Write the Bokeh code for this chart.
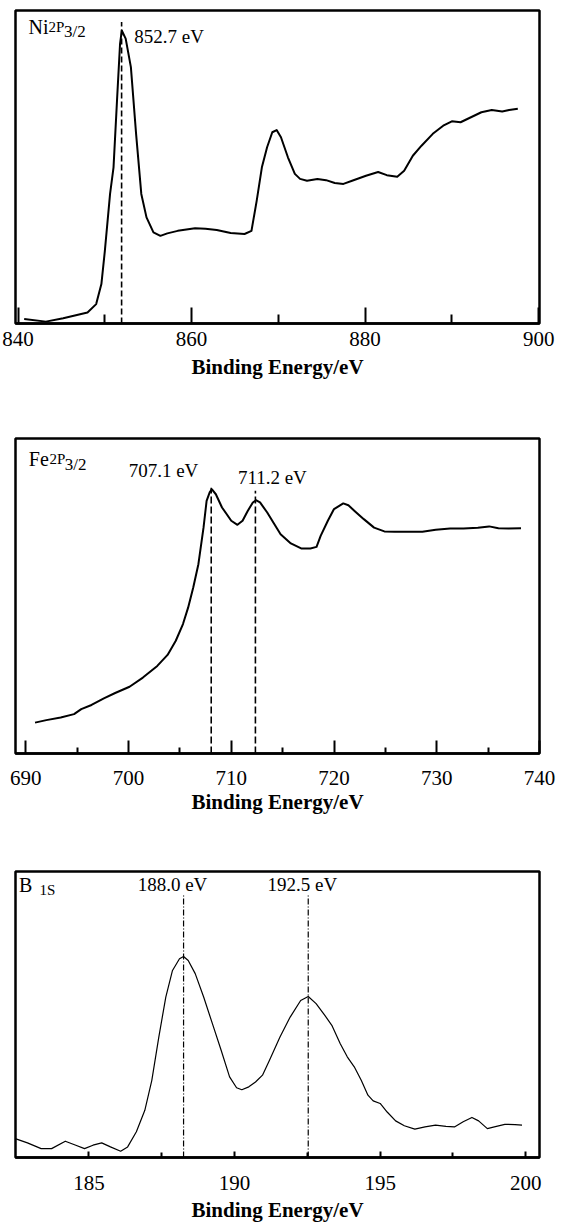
from bokeh.plotting import figure
from bokeh.models import Range1d, FixedTicker, Title
from bokeh.layouts import column
from bokeh.core.properties import value
from bokeh.embed import file_html
from bokeh.resources import INLINE

SERIF = "Liberation Serif"

# ---------------- data ----------------
ni_energy = [840.7, 843.2, 845.2, 848.0, 849.0, 849.6, 850.0, 850.6, 851.0, 851.4,
             851.75, 851.95, 852.4, 853.0, 853.6, 854.2, 854.8, 855.6, 856.4, 857.2,
             858.4, 860.4, 861.6, 862.9, 864.5, 866.1, 866.9, 867.5, 868.1, 868.7,
             869.3, 869.8, 870.3, 871.1, 871.9, 872.5, 873.3, 874.5, 875.5, 876.5,
             877.5, 878.5, 880.1, 881.5, 882.5, 883.7, 884.5, 885.5, 886.5, 887.8,
             889.0, 890.0, 891.0, 892.2, 893.4, 894.6, 895.8, 896.6, 897.6]
ni_intensity = [1.4, 0.6, 1.7, 3.5, 6.2, 12.6, 23.2, 41.4, 49.9, 71.2,
                89.3, 93.6, 91.0, 81.9, 60.6, 41.4, 33.9, 29.1, 28.0, 28.8,
                29.6, 30.4, 30.3, 29.9, 28.9, 28.6, 29.6, 39.2, 49.9, 56.3,
                61.1, 61.8, 59.5, 53.1, 47.8, 46.2, 45.6, 46.2, 45.8, 44.9,
                44.6, 45.6, 47.2, 48.4, 47.4, 46.9, 48.8, 53.6, 56.8, 60.6,
                63.2, 64.6, 64.3, 65.9, 67.5, 68.2, 67.7, 68.2, 68.6]
ni_peak_pos = [851.93]
ni_peak_top = [96.3]
ni_peak_labels = ["852.7 eV"]
ni_ticks = [840, 860, 880, 900]
ni_minor = [850, 870, 890]

fe_energy = [690.9, 692.0, 693.4, 694.7, 695.4, 696.4, 697.6, 698.7, 700.1, 701.4,
             702.8, 703.8, 704.6, 705.3, 705.8, 706.3, 706.8, 707.3, 707.6, 707.9,
             708.1, 708.5, 709.1, 710.0, 710.6, 711.1, 711.6, 712.1, 712.4, 712.8,
             713.5, 714.2, 714.8, 715.8, 716.8, 717.7, 718.3, 718.7, 719.4, 720.0,
             720.9, 721.4, 722.0, 722.9, 723.9, 724.9, 725.9, 727.2, 728.6, 729.9,
             731.3, 732.6, 734.0, 735.1, 736.0, 737.0, 738.2]
fe_intensity = [9.8, 10.6, 11.4, 12.5, 14.1, 15.4, 17.5, 19.2, 21.2, 24.1,
                27.8, 31.3, 35.8, 41.1, 46.3, 52.7, 60.1, 71.7, 80.2, 82.9,
                83.9, 82.3, 78.1, 73.9, 72.6, 73.9, 77.0, 79.7, 80.4, 79.7,
                76.5, 72.8, 69.6, 66.7, 65.1, 65.1, 65.6, 69.1, 73.9, 77.6,
                79.4, 78.8, 77.0, 74.4, 71.7, 70.5, 70.4, 70.4, 70.4, 71.0,
                71.4, 71.4, 71.7, 72.1, 71.5, 71.4, 71.5]
fe_peak_pos = [708.05, 712.35]
fe_peak_top = [84.4, 83.4]
fe_peak_labels = ["707.1 eV", "711.2 eV"]
fe_ticks = [690, 700, 710, 720, 730, 740]
fe_minor = [695, 705, 715, 725, 735]

b_energy = [182.47, 182.89, 183.36, 183.72, 184.19, 184.55, 184.85, 185.14, 185.44, 185.74,
            186.09, 186.33, 186.63, 186.92, 187.16, 187.40, 187.64, 187.87, 188.11, 188.25,
            188.41, 188.65, 188.94, 189.24, 189.54, 189.83, 190.07, 190.25, 190.49, 190.72,
            190.96, 191.20, 191.56, 191.91, 192.27, 192.53, 192.80, 193.10, 193.34, 193.63,
            193.87, 194.11, 194.35, 194.58, 194.76, 195.00, 195.24, 195.53, 195.83, 196.19,
            196.54, 196.90, 197.26, 197.55, 197.85, 198.15, 198.38, 198.68, 198.92, 199.28,
            199.63, 199.87]
b_intensity = [6.6, 5.1, 3.1, 3.1, 5.7, 4.3, 3.1, 4.3, 5.1, 3.7,
               2.2, 3.7, 9.0, 16.5, 27.0, 42.1, 56.1, 65.4, 69.5, 70.3,
               68.9, 64.3, 56.1, 46.8, 37.5, 28.2, 24.4, 23.7, 24.7, 26.4,
               28.8, 34.0, 42.1, 49.1, 54.9, 56.3, 53.8, 49.7, 46.2, 39.8,
               35.2, 31.7, 27.0, 21.8, 19.8, 18.9, 15.9, 12.8, 11.1, 9.9,
               10.7, 11.3, 10.9, 10.7, 12.5, 14.0, 12.8, 10.1, 10.7, 11.6,
               11.5, 11.3]
b_peak_pos = [188.25, 192.53]
b_peak_top = [91.6, 91.6]
b_peak_labels = ["188.0 eV", "192.5 eV"]
b_ticks = [185, 190, 195, 200]
b_minor = [187.5, 192.5, 197.5]

AXIS_TITLE = "Binding Energy/eV"


def make_panel(height, b_top, b_bottom, b_left, b_right, xr, ticks, minor,
               tick_in, minor_in, lab_standoff, title_offset, title_standoff):
    p = figure(width=569, height=height, x_range=Range1d(*xr), y_range=Range1d(0, 100),
               output_backend="svg", toolbar_location=None, y_axis_location=None,
               min_border_top=b_top, min_border_bottom=b_bottom,
               min_border_left=b_left, min_border_right=b_right)
    p.grid.visible = False
    p.outline_line_color = "black"
    p.outline_line_width = 2.5
    p.outline_line_alpha = 1.0
    ax = p.xaxis[0]
    ax.ticker = FixedTicker(ticks=ticks, minor_ticks=minor)
    ax.axis_line_color = "black"
    ax.axis_line_width = 2.5
    ax.major_tick_in = tick_in
    ax.major_tick_out = 0
    ax.major_tick_line_width = 2
    ax.major_tick_line_color = "black"
    ax.minor_tick_in = minor_in
    ax.minor_tick_out = 0
    ax.minor_tick_line_width = 2
    ax.minor_tick_line_color = "black"
    ax.major_label_text_font = SERIF
    ax.major_label_text_font_size = "21px"
    ax.major_label_text_color = "black"
    ax.major_label_standoff = lab_standoff
    t = Title(text=AXIS_TITLE, align="center", offset=title_offset, standoff=title_standoff,
              text_font=SERIF, text_font_style="bold", text_font_size="21px",
              text_color="black")
    p.add_layout(t, "below")
    return p


def add_text(p, xs, ys, texts, size, align="left"):
    p.text(x=xs, y=ys, text=texts, text_font=value(SERIF), text_font_size=value(size),
           text_color="black", text_align=align, text_baseline="alphabetic")


# ---------------- panel 1 : Ni 2p3/2 ----------------
p1 = make_panel(400, 10, 77, 15, 17, (839.7, 900.1), ni_ticks, ni_minor, 16, 9, 8, 10, 8)
p1.line(ni_energy, ni_intensity, line_color="black", line_width=2, line_join="round")
p1.segment(x0=ni_peak_pos, y0=[0] * len(ni_peak_pos), x1=ni_peak_pos, y1=ni_peak_top,
           line_color="black", line_width=1.6, line_dash="6 3")
add_text(p1, [841.2], [94.8], ["Ni"], "20px")
add_text(p1, [843.5], [94.8], ["2P"], "15px")
add_text(p1, [845.3], [93.2], ["3/2"], "17px")
add_text(p1, [853.4], [91.8], ni_peak_labels, "19px")

# ---------------- panel 2 : Fe 2p3/2 ----------------
p2 = make_panel(430, 38, 77, 6, 30, (689.0, 740.0), fe_ticks, fe_minor, 13, 6, 17, 20, 1)
p2.line(fe_energy, fe_intensity, line_color="black", line_width=2, line_join="round")
p2.segment(x0=fe_peak_pos, y0=[0] * len(fe_peak_pos), x1=fe_peak_pos, y1=fe_peak_top,
           line_color="black", line_width=1.6, line_dash="7 3")
add_text(p2, [690.3], [93.4], ["Fe"], "20px")
add_text(p2, [692.3], [93.4], ["2P"], "15px")
add_text(p2, [693.8], [91.8], ["3/2"], "17px")
add_text(p2, [703.4, 714.0], [89.9, 87.5], fe_peak_labels, "19px", "center")

# ---------------- panel 3 : B 1s ----------------
p3 = make_panel(395, 41, 68, 9, 20, (182.48, 200.47), b_ticks, b_minor, 6, 5, 18, 14, 6)
p3.line(b_energy, b_intensity, line_color="black", line_width=1.2, line_join="round")
p3.segment(x0=b_peak_pos, y0=[0] * len(b_peak_pos), x1=b_peak_pos, y1=b_peak_top,
           line_color="black", line_width=1.2, line_dash="6 2 1 2")
add_text(p3, [182.6], [95.3], ["B"], "20px")
add_text(p3, [183.3], [93.4], ["1S"], "15px")
add_text(p3, [187.87, 192.33], [95.3, 95.3], b_peak_labels, "19px", "center")

layout = column(p1, p2, p3, spacing=0)
open("out.html", "w").write(file_html(layout, INLINE))
